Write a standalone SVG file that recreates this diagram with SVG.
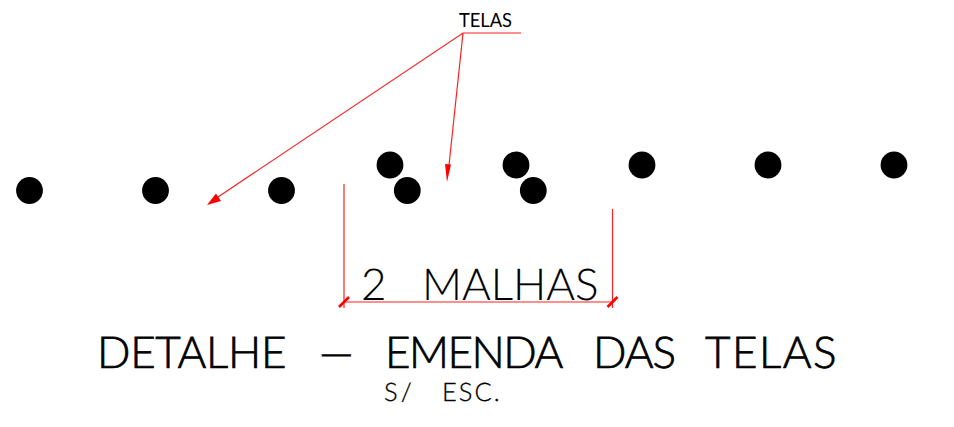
<svg xmlns="http://www.w3.org/2000/svg" width="954" height="427" viewBox="0 0 954 427">
<style>
text{font-family:"Lato","Liberation Sans",sans-serif;font-weight:300;fill:#000;text-rendering:geometricPrecision}
.dot{fill:#000}
.r{stroke:#ff2020;stroke-width:1.2;fill:none}
.t{stroke:#ff0000;stroke-width:2.6;fill:none}
.h{fill:#ff0000;stroke:none}
.title{font-size:44px;stroke:#000;stroke-width:.7px}
.sub{font-size:25.500px;stroke:#000;stroke-width:.3px}
.dim{font-size:44px;stroke:#000;stroke-width:.1px}
</style>
<rect width="954" height="427" fill="#fff"/>
<g id="dots">
<circle class="dot" cx="29.500" cy="190.500" r="13.400"/>
<circle class="dot" cx="155.500" cy="190.500" r="13.400"/>
<circle class="dot" cx="281.500" cy="190.500" r="13.400"/>
<circle class="dot" cx="407.300" cy="190.500" r="13.400"/>
<circle class="dot" cx="533.300" cy="190.500" r="13.400"/>
<circle class="dot" cx="390" cy="165" r="13.400"/>
<circle class="dot" cx="516" cy="165" r="13.400"/>
<circle class="dot" cx="642" cy="165" r="13.400"/>
<circle class="dot" cx="768" cy="165" r="13.400"/>
<circle class="dot" cx="894" cy="165" r="13.400"/>
</g>
<g id="connectors">
<path class="r" d="M521 33H463L218 197M463 33L449 165"/>
<polygon class="h" points="207,205 216,193.500 221,201"/>
<polygon class="h" points="447,182 445,164 451,164.500"/>
<path class="r" d="M344 184V308M612.500 209V308M343 302H613"/>
<path class="t" d="M339 307L349 297M607.500 307L617.500 297"/>
</g>
<g id="labels">
<text x="459" y="27" font-size="19.500" textLength="53" lengthAdjust="spacingAndGlyphs" style="font-weight:400">TELAS</text>
<text class="dim" y="300"><tspan x="361">2</tspan> <tspan x="422">MALHAS</tspan></text>
<text class="title" y="368"><tspan x="97" letter-spacing="-0.300">DETALHE</tspan> <tspan x="319">—</tspan> <tspan x="385" letter-spacing="-1.500">EMENDA</tspan> <tspan x="593" letter-spacing="-1">DAS</tspan> <tspan x="705" letter-spacing="1.500">TELAS</tspan></text>
<text class="sub" y="400.500"><tspan x="384" letter-spacing="3">S/</tspan> <tspan x="442" letter-spacing="2">ESC.</tspan></text>
</g>
</svg>
